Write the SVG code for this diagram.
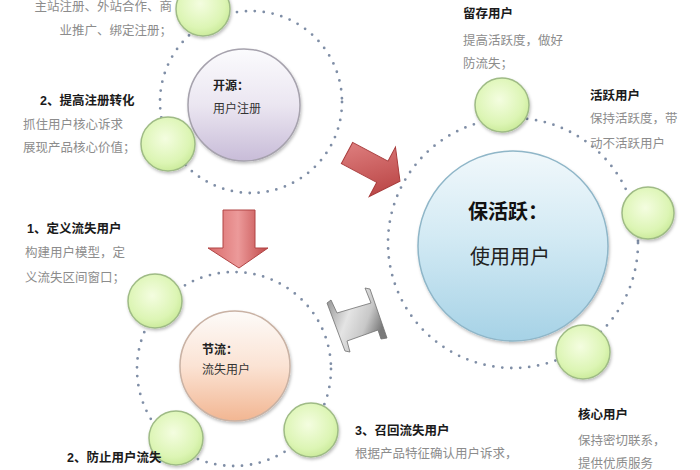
<svg xmlns="http://www.w3.org/2000/svg" width="700" height="470" viewBox="0 0 700 470">
<defs>
<style>
text{font-family:"Liberation Sans","Noto Sans CJK SC",sans-serif}
.t{font-size:12.5px;font-weight:bold;fill:#1a1a1a}
.b{font-size:12.5px;fill:#8c8c8c}
.ct{font-size:12px;font-weight:bold;fill:#222}
.cb{font-size:12px;fill:#333}
.ring{fill:none;stroke:#7f8ea6;stroke-width:2.8;stroke-linecap:round;stroke-dasharray:0 9}
.g{fill:url(#gG);stroke:#9fbb86;stroke-width:1.5;filter:url(#sh)}
</style>
<radialGradient id="gG" cx="0.45" cy="0.4" r="0.65">
<stop offset="0" stop-color="#f4fde0"/><stop offset="0.7" stop-color="#dcf5b4"/><stop offset="1" stop-color="#c6e894"/>
</radialGradient>
<linearGradient id="gP" x1="0" y1="0" x2="0" y2="1">
<stop offset="0" stop-color="#fbfbfd"/><stop offset="0.5" stop-color="#ebe6f1"/><stop offset="1" stop-color="#c8bcd8"/>
</linearGradient>
<linearGradient id="gO" x1="0" y1="0" x2="0" y2="1">
<stop offset="0" stop-color="#fdfbf9"/><stop offset="0.5" stop-color="#fbe3d4"/><stop offset="1" stop-color="#f2b692"/>
</linearGradient>
<linearGradient id="gB" x1="0" y1="0" x2="0" y2="1">
<stop offset="0" stop-color="#f1f8fb"/><stop offset="0.45" stop-color="#d3eaf4"/><stop offset="1" stop-color="#a6d2e6"/>
</linearGradient>
<linearGradient id="gR" x1="0" y1="0" x2="1" y2="1">
<stop offset="0" stop-color="#e48888"/><stop offset="1" stop-color="#b43c3c"/>
</linearGradient>
<linearGradient id="gR2" x1="0" y1="0" x2="1" y2="0">
<stop offset="0" stop-color="#d96a6a"/><stop offset="0.5" stop-color="#ec9a9a"/><stop offset="1" stop-color="#c04848"/>
</linearGradient>
<linearGradient id="gS" x1="0" y1="0" x2="1" y2="0.4">
<stop offset="0" stop-color="#8a8a8a"/><stop offset="0.45" stop-color="#e4e4e4"/><stop offset="0.75" stop-color="#c8c8c8"/><stop offset="1" stop-color="#7a7a7a"/>
</linearGradient>
<filter id="sh" x="-20%" y="-20%" width="150%" height="150%">
<feDropShadow dx="1" dy="2" stdDeviation="1.8" flood-color="#000" flood-opacity="0.25"/>
</filter>
</defs>
<rect width="700" height="470" fill="#ffffff"/>

<g id="rings">
<circle class="ring" cx="251" cy="102" r="91"/>
<circle class="ring" cx="234" cy="369" r="97"/>
<circle class="ring" cx="513" cy="243" r="125"/>
</g>

<g id="node-kaiyuan">
<circle cx="244" cy="105" r="56" fill="url(#gP)" stroke="#a6a2ad" stroke-width="1.5" filter="url(#sh)"/>
<text class="ct" x="213" y="90">开源：</text>
<text class="cb" x="213" y="113">用户注册</text>
</g>

<g id="node-jieliu">
<circle cx="235" cy="366" r="55" fill="url(#gO)" stroke="#c9b2a4" stroke-width="1.5" filter="url(#sh)"/>
<text class="ct" x="202" y="354">节流：</text>
<text class="cb" x="202" y="374">流失用户</text>
</g>

<g id="node-baohuoyue">
<circle cx="513" cy="246" r="95" fill="url(#gB)" stroke="#8fb6c8" stroke-width="1.5" filter="url(#sh)"/>
<text x="468" y="219" style="font-size:20px;font-weight:bold;fill:#111">保活跃：</text>
<text x="470" y="264" style="font-size:20px;fill:#222">使用用户</text>
</g>

<g id="node-register-channels">
<circle class="g" cx="203" cy="9" r="27"/>
<text class="b" x="172" y="11" text-anchor="end">主站注册、外站合作、商</text>
<text class="b" x="172" y="35" text-anchor="end">业推广、绑定注册；</text>
</g>

<g id="node-register-conversion">
<circle class="g" cx="168" cy="144" r="27"/>
<text class="t" x="40" y="105">2、提高注册转化</text>
<text class="b" x="23" y="129">抓住用户核心诉求</text>
<text class="b" x="23" y="152">展现产品核心价值；</text>
</g>

<g id="node-define-churn">
<circle class="g" cx="155" cy="301" r="27"/>
<text class="t" x="27" y="233">1、定义流失用户</text>
<text class="b" x="25" y="257">构建用户模型，定</text>
<text class="b" x="25" y="282">义流失区间窗口；</text>
</g>

<g id="node-prevent-churn">
<circle class="g" cx="176" cy="438" r="27"/>
<text class="t" x="67" y="462">2、防止用户流失</text>
</g>

<g id="node-recall-churn">
<circle class="g" cx="311" cy="430" r="27"/>
<text class="t" x="355" y="435">3、召回流失用户</text>
<text class="b" x="355" y="458">根据产品特征确认用户诉求，</text>
</g>

<g id="node-retained">
<circle class="g" cx="502" cy="105" r="27"/>
<text class="t" x="463" y="18">留存用户</text>
<text class="b" x="463" y="45">提高活跃度，做好</text>
<text class="b" x="463" y="68">防流失；</text>
</g>

<g id="node-active">
<circle class="g" cx="648" cy="213" r="26"/>
<text class="t" x="590" y="100">活跃用户</text>
<text class="b" x="590" y="123">保持活跃度，带</text>
<text class="b" x="590" y="148">动不活跃用户</text>
</g>

<g id="node-core">
<circle class="g" cx="583" cy="352" r="27"/>
<text class="t" x="578" y="419">核心用户</text>
<text class="b" x="578" y="445">保持密切联系，</text>
<text class="b" x="578" y="468">提供优质服务</text>
</g>

<g id="connectors">
<polygon points="223,210 255,210 255,248 268,248 239,268 208,248 223,248" fill="url(#gR2)" stroke="#b04545" stroke-width="1"/>
<polygon transform="translate(347,153) rotate(28)" points="0,-12 40,-12 40,-28 60,0 40,28 40,12 0,12" fill="url(#gR)" stroke="#a83c3c" stroke-width="1"/>
<polygon points="331,300 337,313 371,303 365,288 370,289 387,338 381,339 378,330 347,341 350,352 345,351 327,303" fill="url(#gS)" stroke="#707070" stroke-width="0.8"/>
</g>
</svg>
